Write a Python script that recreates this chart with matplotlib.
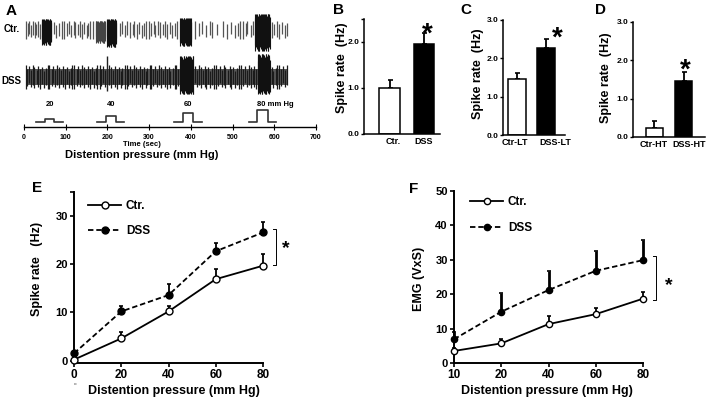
import numpy as np
import matplotlib
matplotlib.use("Agg")
import matplotlib.pyplot as plt

plt.rcParams['font.family'] = ['Liberation Sans', 'DejaVu Sans']
plt.rcParams['font.weight'] = 'bold'
plt.rcParams['axes.labelweight'] = 'bold'

# ---- A: example recordings (times in sec) ----
ctr_spikes = [5, 9, 12, 17, 21, 26, 29, 33, 38, 71, 76, 84, 91, 95, 103, 108, 113, 119,
              123, 129, 135, 139, 144, 150, 153, 159, 166, 229, 236, 243, 247, 255, 261,
              264, 270, 276, 283, 287, 292, 299, 304, 311, 315, 321, 327, 333, 339, 343,
              351, 355, 361, 367, 411, 419, 427, 437, 445, 451, 463, 477, 487, 497, 505,
              513, 517, 525, 531, 535, 543, 549, 595, 599, 607, 611, 619, 625, 631]
ctr_bursts = [(42, 66), (172, 196), (198, 222), (374, 402), (554, 590)]
dss_spikes = [5, 8, 12, 16, 21, 25, 30, 34, 39, 43, 47, 52, 57, 61, 66, 70, 75, 80, 84,
              89, 93, 98, 103, 107, 112, 116, 121, 126, 130, 135, 139, 144, 149, 153, 158,
              162, 167, 172, 176, 181, 185, 190, 195, 204, 209, 213, 218, 223, 227, 232,
              236, 241, 246, 250, 255, 259, 264, 269, 273, 278, 282, 287, 292, 296, 301,
              305, 310, 315, 319, 324, 328, 333, 338, 342, 347, 351, 356, 361, 365, 370,
              410, 414, 419, 424, 428, 433, 437, 442, 447, 451, 456, 460, 465, 470, 474,
              479, 483, 488, 493, 497, 502, 506, 511, 516, 520, 525, 529, 534, 539, 543,
              548, 552, 556, 594, 598, 603, 607, 612, 617, 621, 626, 631]
dss_bursts = [(374, 406), (560, 590)]
dss_big_spike = 200
step_mmhg = [20, 40, 60, 80]
step_on = [28, 176, 360, 540]
step_up = [50, 197, 380, 559]
step_down = [73, 220, 406, 586]
step_off = [93, 240, 426, 604]
time_ticks = [0, 100, 200, 300, 400, 500, 600, 700]

# ---- B-D: spike rates (Hz) ----
b_groups = ['Ctr.', 'DSS']
b_mean = [1.0, 1.96]
b_sem = [0.18, 0.24]
c_groups = ['Ctr-LT', 'DSS-LT']
c_mean = [1.45, 2.26]
c_sem = [0.18, 0.24]
d_groups = ['Ctr-HT', 'DSS-HT']
d_mean = [0.24, 1.45]
d_sem = [0.18, 0.25]

# ---- E: spike rate vs pressure ----
e_pressure = [0, 20, 40, 60, 80]
e_ctr = [0.2, 4.6, 10.2, 16.9, 19.7]
e_ctr_err = [0, 1.4, 1.2, 2.2, 2.5]
e_dss = [1.5, 10.2, 13.6, 22.7, 26.6]
e_dss_err = [0, 1.2, 2.3, 1.7, 2.1]

# ---- F: EMG vs pressure ----
f_pressure = ['10', '20', '40', '60', '80']
f_ctr = [3.5, 5.7, 11.3, 14.2, 18.7]
f_ctr_err = [1.0, 1.3, 2.4, 1.9, 2.0]
f_dss = [6.9, 14.9, 21.2, 26.8, 29.9]
f_dss_err = [2.2, 5.5, 5.5, 5.8, 5.8]

W, H = 715.0, 399.0
fig = plt.figure(figsize=(7.15, 3.99), dpi=100)

def box(l, t, r, b):
    return fig.add_axes([l/W, 1-b/H, (r-l)/W, (b-t)/H])

hcyc = np.array([1.0, 0.7, 0.9, 0.55, 1.0, 0.8, 0.6, 0.95, 0.65, 0.85, 0.5, 0.75, 1.0])

def spikes(ax, times, y0, up, down, color, lw=0.9):
    times = np.asarray(times, float)
    k = np.resize(hcyc, len(times))
    k2 = np.resize(hcyc[::-1], len(times))
    ax.vlines(times, y0 - down*k2, y0 + up*k, color=color, lw=lw)

def burst(ax, a, b, y0, up, down, color='#111'):
    tt = np.arange(a, b, 0.8)
    spikes(ax, tt, y0, up, down, color, lw=0.8)

# ---------------- A ----------------
axA = box(24, 10, 316, 127)
axA.set_xlim(0, 700)
axA.set_ylim(0, 117)
for s in ['top', 'right', 'left']:
    axA.spines[s].set_visible(False)
axA.spines['bottom'].set_linewidth(1.0)
axA.set_yticks([])
axA.set_xticks(time_ticks)
axA.tick_params(axis='x', direction='inout', length=4, width=0.8, labelsize=5, pad=3)

ctr_y, dss_y = 97.5, 50
spikes(axA, ctr_spikes, ctr_y, 9, 9, '#555')
amp = [(11, 15), (9, 13), (11, 17), (12, 16), (16, 21)]
for (a, b), (u, d) in zip(ctr_bursts, amp):
    burst(axA, a, b, ctr_y, u, d, '#444' if (a, b) == ctr_bursts[1] else '#111')

axA.fill_between([5, 632], dss_y - 8, dss_y + 8, color='#5a5a5a', lw=0)
spikes(axA, dss_spikes, dss_y, 12, 12, '#1a1a1a')
for (a, b), (u, d) in zip(dss_bursts, [(21, 17), (23, 17)]):
    burst(axA, a, b, dss_y, u, d)
axA.vlines(dss_big_spike, dss_y - 14, dss_y + 21, color='#222', lw=1.0)

for i, p in enumerate(step_mmhg):
    h = 5 + 0.15*p
    axA.plot([step_on[i], step_up[i], step_up[i], step_down[i], step_down[i], step_off[i]],
             [5, 5, h, h, 5, 5], color='#333', lw=1.2, clip_on=False)
    mid = (step_up[i] + step_down[i]) / 2.0
    if i < len(step_mmhg) - 1:
        axA.text(mid, 22.5, str(p), ha='center', va='center', fontsize=5.5)
    else:
        axA.text(mid - 14, 22.5, '%d mm Hg' % p, ha='left', va='center', fontsize=5.5)

axA.text(-9, ctr_y, 'Ctr.', ha='right', va='center', fontsize=7, clip_on=False)
axA.text(-7, dss_y - 4, 'DSS', ha='right', va='center', fontsize=7, clip_on=False)
axA.text(283, -18, 'Time (sec)', ha='center', va='center', fontsize=5.5, clip_on=False)
axA.text(283, -28, 'Distention pressure (mm Hg)', ha='center', va='center', fontsize=8,
         clip_on=False)

# ---------------- B, C, D ----------------
def bars(rect, groups, mean, sem, xlim, ylim, yticks, ylabels, star_x, star_y, lab, lab_dx):
    ax = box(*rect)
    x = np.arange(len(groups))
    ax.bar(x, mean, width=0.6, color=['white', 'black'], edgecolor='black', lw=1.1, zorder=2)
    ax.errorbar(x, mean, yerr=[np.zeros(len(sem)), sem], fmt='none', ecolor='black',
                elinewidth=1.3, capsize=1.8, capthick=1.2, zorder=1)
    ax.set_xlim(*xlim)
    ax.set_ylim(*ylim)
    ax.set_xticks(x + np.array(lab_dx))
    ax.set_xticklabels(groups)
    ax.set_yticks(yticks)
    ax.set_yticklabels(ylabels)
    for s in ['top', 'right']:
        ax.spines[s].set_visible(False)
    for s in ['left', 'bottom']:
        ax.spines[s].set_linewidth(1.1)
    ax.tick_params(axis='x', length=0, labelsize=6.5, pad=2.5)
    ax.tick_params(axis='y', length=2.5, width=1.0, labelsize=6, pad=1)
    ax.set_ylabel('Spike rate  (Hz)', fontsize=9)
    ax.yaxis.set_label_coords(*lab)
    ax.text(star_x, star_y, '*', ha='center', va='baseline', fontsize=20)
    return ax

bars((364, 19, 440, 134), b_groups, b_mean, b_sem, (-0.74, 1.46), (0, 2.5),
     [0, 1, 2, 2.5], ['0.0', '1.0', '2.0', ''], 1.08, 2.0, (-0.215, 0.58), [0.1, 0.0])
bars((503, 20, 565, 135), c_groups, c_mean, c_sem, (-0.48, 1.66), (0, 3.0),
     [0, 1, 2, 3], ['0.0', '1.0', '2.0', '3.0'], 1.38, 2.32, (-0.30, 0.53), [-0.07, 0.31])
bars((633, 22, 705, 137), d_groups, d_mean, d_sem, (-0.74, 1.74), (0, 3.0),
     [0, 1, 2, 3], ['0.0', '1.0', '2.0', '3.0'], 1.05, 1.54, (-0.29, 0.52), [-0.03, 0.19])

# ---------------- E, F ----------------
def style_line_axes(ax):
    for s in ['top', 'right']:
        ax.spines[s].set_visible(False)
    for s in ['left', 'bottom']:
        ax.spines[s].set_linewidth(1.4)
    ax.tick_params(axis='both', length=3, width=1.2)
    ax.tick_params(axis='x', labelsize=8.5, pad=1.5)
    ax.tick_params(axis='y', labelsize=8, pad=1.5)

leg_kw = dict(loc='upper left', frameon=False, fontsize=8.5, handlelength=2.8,
              handletextpad=0.4, labelspacing=1.15, borderpad=0, borderaxespad=0,
              numpoints=1)

axE = box(74, 192, 263, 363)
axE.errorbar(e_pressure, e_ctr, yerr=[np.zeros(5), e_ctr_err], fmt='none', ecolor='k',
             elinewidth=1.3, capsize=1.5, capthick=1.2, clip_on=False)
axE.errorbar(e_pressure, e_dss, yerr=[np.zeros(5), e_dss_err], fmt='none', ecolor='k',
             elinewidth=1.3, capsize=1.5, capthick=1.2, clip_on=False)
lc, = axE.plot(e_pressure, e_ctr, '-o', color='k', lw=1.3, ms=5, mfc='white', mec='k',
               mew=1.0, clip_on=False, zorder=5, label='Ctr.')
ld, = axE.plot(e_pressure, e_dss, '--o', color='k', lw=1.3, ms=5, mfc='k', mec='k',
               dashes=(3, 1.6), clip_on=False, zorder=4, label='DSS')
axE.set_xlim(0, 80)
axE.set_ylim(-0.5, 35)
axE.set_xticks(e_pressure)
axE.set_yticks([0, 10, 20, 30, 35])
axE.set_yticklabels(['0', '10', '20', '30', ''])
style_line_axes(axE)
axE.set_ylabel('Spike rate   (Hz)', fontsize=9)
axE.yaxis.set_label_coords(-0.165, 0.55)
axE.set_xlabel('Distention pressure (mm Hg)', fontsize=9)
axE.xaxis.set_label_coords(0.53, -0.13)
axE.legend(handles=[lc, ld], bbox_to_anchor=(0.074, 0.955), **leg_kw)
axE.plot([84.2, 85.5, 85.5, 84.2], [27.4, 27.4, 19.8, 19.8], color='k', lw=0.7,
         clip_on=False)
axE.text(89.8, 22.3, '*', ha='center', va='baseline', fontsize=14, clip_on=False)
axE.text(0.5, -4.9, 'o', ha='center', va='center', fontsize=3.2, color='#777',
         clip_on=False)

axF = box(454, 191, 643, 363)
xf = np.arange(len(f_pressure))
axF.errorbar(xf, f_ctr, yerr=[np.zeros(5), f_ctr_err], fmt='none', ecolor='k',
             elinewidth=1.3, capsize=1.5, capthick=1.2, clip_on=False)
axF.errorbar(xf, f_dss, yerr=[np.zeros(5), f_dss_err], fmt='none', ecolor='k',
             elinewidth=2.0, capsize=1.5, capthick=1.2, clip_on=False)
fc, = axF.plot(xf, f_ctr, '-o', color='k', lw=1.3, ms=4.5, mfc='white', mec='k',
               mew=1.0, clip_on=False, zorder=5, label='Ctr.')
fd, = axF.plot(xf, f_dss, '--o', color='k', lw=1.3, ms=4.5, mfc='k', mec='k',
               dashes=(3, 1.6), clip_on=False, zorder=4, label='DSS')
axF.set_xlim(0, 4)
axF.set_ylim(0, 50)
axF.set_xticks(xf)
axF.set_xticklabels(f_pressure)
axF.set_yticks([0, 10, 20, 30, 40, 50])
style_line_axes(axF)
axF.set_ylabel('EMG (VxS)', fontsize=9)
axF.yaxis.set_label_coords(-0.153, 0.49)
axF.set_xlabel('Distention pressure (mm Hg)', fontsize=9)
axF.xaxis.set_label_coords(0.49, -0.13)
axF.legend(handles=[fc, fd], bbox_to_anchor=(0.085, 0.97), **leg_kw)
axF.plot([4.21, 4.275, 4.275, 4.21], [31.2, 31.2, 18.3, 18.3], color='k', lw=0.7,
         clip_on=False)
axF.text(4.55, 21.2, '*', ha='center', va='baseline', fontsize=14, clip_on=False)

# panel letters
for lab, px, py in [('A', 6, 4), ('B', 333, 3), ('C', 460, 3), ('D', 595, 3),
                    ('E', 32, 181), ('F', 409, 182)]:
    fig.text(px/W, 1-py/H, lab, fontsize=11, fontweight='bold', va='top', ha='left')

fig.savefig('out.png', dpi=100)
